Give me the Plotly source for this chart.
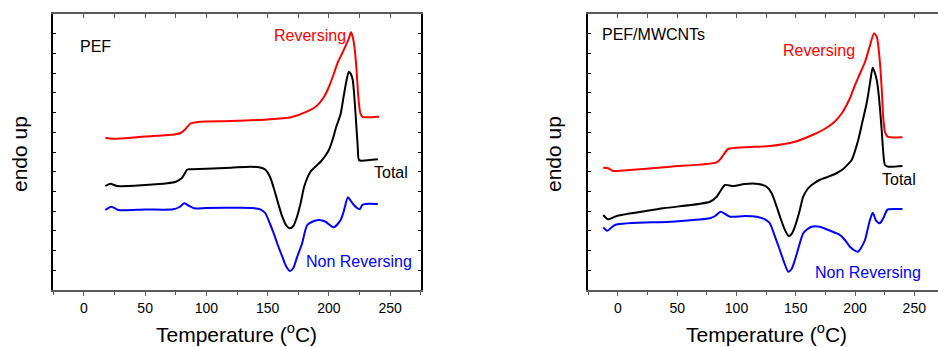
import plotly.graph_objects as go

# ---------------- data (heat flow in arbitrary units, endo up) ----------------
pef_rev_T = [17.5, 23, 50, 75, 79, 83, 87, 95, 120, 150, 169, 182, 190, 196, 200, 204, 207, 211,
             214, 216.5, 218, 219.5, 221, 222.5, 224, 225.5, 227, 229, 241]
pef_rev_y = [152.3, 151.3, 153.5, 155.7, 157, 161, 166.5, 168.3, 169, 170.5, 172.7, 178.3, 184,
             193, 203, 216, 226.7, 237, 245, 252, 257.7, 253, 242, 222, 194, 178, 173.5, 172.7, 173.3]

pef_tot_T = [17.5, 21.5, 27, 50, 68, 75, 80, 84.5, 88, 100, 120, 136, 143, 148, 152, 155, 159, 162,
             165, 168.2, 171, 174, 177, 180, 185, 190, 193.3, 197, 200, 203, 206, 209.6, 212, 214.5,
             216.4, 218, 219.5, 221, 222.5, 223.5, 224.6, 227, 240]
pef_tot_y = [104, 106.3, 104, 105, 106.7, 108.3, 112, 120.5, 120.7, 121.3, 122.3, 123.3, 122.7, 120.5,
             113, 102, 85, 73.3, 65, 61.7, 64, 73.3, 87, 104, 118.3, 124.5, 128.3, 134, 140, 150, 163,
             176, 193, 210, 218.3, 216, 210, 190, 163, 145, 130, 129.3, 130.7]

pef_nrev_T = [17.5, 22.4, 28, 50, 73, 78, 82, 86, 90, 100, 128, 137.7, 144, 148, 152, 155, 158, 162,
              165, 168.2, 171, 174.2, 178, 182.4, 188, 192, 197, 204, 209.6, 212, 215.6, 218, 220.5,
              223, 225.2, 227.3, 230, 240]
pef_nrev_y = [80, 83.3, 80, 80.5, 80.7, 83, 86.7, 84, 81.7, 82, 82.3, 82, 80.7, 77, 66, 56.7, 46, 33.3,
              24, 19, 22, 33.3, 46, 65, 69, 70, 68.5, 62.7, 70, 78, 92.7, 89, 85, 82, 80.7, 85, 86, 86]

cnt_rev_T = [-12.4, -8.2, -4, 1.7, 43.9, 83.3, 86.5, 88.9, 93, 107, 128, 149.3, 165, 175, 183, 189,
             195, 200, 204, 208.4, 212, 216, 218.3, 220, 221.5, 222.8, 223.8, 225.3, 227.5, 230, 240]
cnt_rev_y = [122.3, 121.7, 119, 119.3, 123.3, 127.7, 131, 135, 141, 142.7, 144, 148.3, 155.5, 161.5,
             168.5, 177, 190, 205, 216, 228, 242, 256.5, 253.3, 240, 220, 195, 172, 158, 153.3, 152.7, 152.7]

cnt_tot_T = [-12.4, -8.2, -1, 38.2, 77.6, 83.3, 87, 90.3, 97.3, 107, 118.4, 125.4, 129.7, 133.9, 136.7,
             140.9, 144, 146.5, 149.3, 153, 156.3, 160, 163.4, 170, 177.4, 184, 190, 195, 197.2, 202.7,
             206, 209.8, 212.6, 214.9, 216.5, 218.3, 220, 222.5, 224, 225.3, 228, 240]
cnt_tot_y = [75, 70.7, 74, 81.7, 88.3, 93.3, 100, 105, 104, 106, 106, 103.3, 96.7, 83.3, 73.3, 60, 54,
             56, 63.3, 78, 93.3, 101, 105, 110, 113.3, 116.5, 121, 127, 130, 150, 167, 186.7, 206.7,
             222.3, 218, 210, 195, 160, 135, 125, 123.3, 124]

cnt_nrev_T = [-12.4, -9, -2.5, 43.9, 77.6, 82, 86.6, 90.5, 94.5, 107, 117, 124, 128, 132.5, 136, 139.5,
              143.7, 146.5, 149.3, 153, 156.3, 160, 163.4, 170, 177.4, 187.3, 191.5, 195.7, 199, 202.5,
              205, 208.4, 210.5, 212.6, 214.9, 216, 217.4, 219, 220.5, 222, 223.8, 226.7, 228, 240]
cnt_nrev_y = [62.7, 59.3, 65, 68.3, 71.7, 74, 78.3, 76, 73.3, 74, 73.3, 70.7, 67, 53.3, 42, 30, 18.3,
              21, 30, 45, 56.7, 61, 63.3, 63.3, 60, 55, 50, 43.3, 40, 38.3, 42, 50, 60, 70, 77.3, 75,
              70, 68, 66.7, 68, 71.7, 79.3, 80.7, 81]

x_ticks = [0, 50, 100, 150, 200, 250]
panel_labels = ["PEF", "PEF/MWCNTs"]

# ---------------- figure ----------------
W, H = 938, 347
FONT = "Liberation Sans, Arial, sans-serif"
RED, BLACK, BLUE = "#ff0000", "#000000", "#0000ff"

fig = go.Figure()

def add(x, y, color, xa, ya):
    fig.add_trace(go.Scatter(x=x, y=y, mode="lines", xaxis=xa, yaxis=ya,
                             line=dict(color=color, width=2, shape="spline", smoothing=0.7),
                             showlegend=False, hoverinfo="skip"))

add(pef_rev_T, pef_rev_y, RED, "x", "y")
add(pef_tot_T, pef_tot_y, BLACK, "x", "y")
add(pef_nrev_T, pef_nrev_y, BLUE, "x", "y")
add(cnt_rev_T, cnt_rev_y, RED, "x2", "y2")
add(cnt_tot_T, cnt_tot_y, BLACK, "x2", "y2")
add(cnt_nrev_T, cnt_nrev_y, BLUE, "x2", "y2")
# empty traces to attach top (mirror) axes
fig.add_trace(go.Scatter(x=[], y=[], xaxis="x3", yaxis="y", showlegend=False))
fig.add_trace(go.Scatter(x=[], y=[], xaxis="x4", yaxis="y2", showlegend=False))

ydom = [1 - 290 / H, 1 - 14 / H]
yrange = [0, 276]
ydt = 276 / 14

xcommon = dict(showgrid=False, zeroline=False, showline=True, linecolor="#5a5a5a", linewidth=2,
               ticks="outside", ticklen=4, tickcolor="#5a5a5a", tickwidth=1,
               tickvals=x_ticks, tickfont=dict(family=FONT, size=14, color="black"),
               minor=dict(dtick=25, tick0=0, ticks="outside", ticklen=3, tickcolor="#5a5a5a"))
ycommon = dict(showgrid=False, zeroline=False, showline=True, linecolor="black", linewidth=1.5,
               ticks="inside", ticklen=3, tickcolor="black", tick0=0, dtick=ydt,
               showticklabels=False, range=yrange)
topcommon = dict(showgrid=False, zeroline=False, showline=True, linecolor="#5a5a5a", linewidth=2,
                 ticks="inside", ticklen=4, tickcolor="#5a5a5a", dtick=25, tick0=0,
                 showticklabels=False, side="top")

fig.update_layout(
    width=W, height=H,
    margin=dict(l=0, r=0, t=0, b=0),
    paper_bgcolor="white", plot_bgcolor="white",
    xaxis=dict(domain=[53.3 / W, 420.7 / W], range=[-25, 275], anchor="y", **xcommon),
    yaxis=dict(domain=ydom, anchor="x", mirror="ticks", **ycommon),
    xaxis2=dict(domain=[588.3 / W, 1.0], range=[-25, 270], anchor="y2", **xcommon),
    yaxis2=dict(domain=ydom, anchor="x2", mirror=False, **ycommon),
    xaxis3=dict(overlaying="x", anchor="y", range=[-25, 275], **topcommon),
    xaxis4=dict(overlaying="x2", anchor="y2", range=[-25, 270], **topcommon),
)

ann = []
def label(text, x, y, color, xref, yref, size=16):
    ann.append(dict(text=text, x=x, y=y, xref=xref, yref=yref, xanchor="left", yanchor="middle",
                    showarrow=False, font=dict(family=FONT, size=size, color=color)))

label(panel_labels[0], -4.5, 244, BLACK, "x", "y")
label("Reversing", 153.5, 255, RED, "x", "y")
label("Total", 235, 118, BLACK, "x", "y")
label("Non Reversing", 179.5, 29, BLUE, "x", "y")
label(panel_labels[1], -15.2, 256, BLACK, "x2", "y2")
label("Reversing", 137.5, 240, RED, "x2", "y2")
label("Total", 221.3, 111, BLACK, "x2", "y2")
label("Non Reversing", 164.2, 18, BLUE, "x2", "y2")

for cx in (237 / W, 766.7 / W):
    ann.append(dict(text="Temperature (<sup>o</sup>C)", x=cx, y=1 - 333 / H, xref="paper", yref="paper",
                    xanchor="center", yanchor="middle", showarrow=False,
                    font=dict(family=FONT, size=21, color="black")))
for cx in (19 / W, 553 / W):
    ann.append(dict(text="endo up", x=cx, y=1 - 154 / H, xref="paper", yref="paper", textangle=-90,
                    xanchor="center", yanchor="middle", showarrow=False,
                    font=dict(family=FONT, size=21, color="black")))
fig.update_layout(annotations=ann)

fig.write_html("out.html")
